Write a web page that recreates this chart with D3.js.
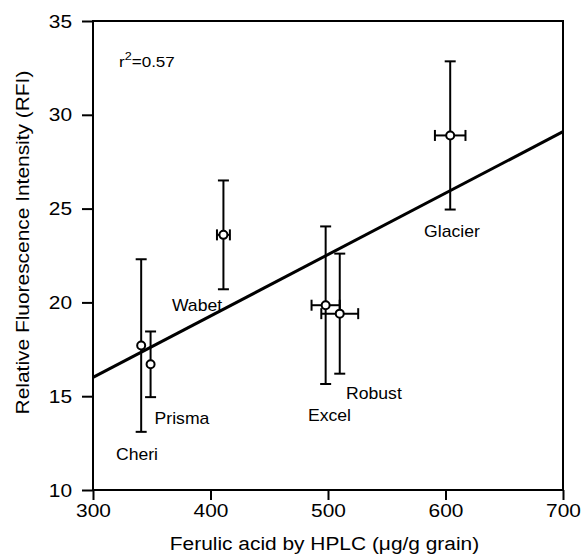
<!DOCTYPE html>
<html>
<head>
<meta charset="utf-8">
<script src="https://cdn.jsdelivr.net/npm/d3@7"></script>
<style>
  body { margin: 0; background: #fff; }
  svg text { font-family: "Liberation Sans", Arial, sans-serif; fill: #000; }
</style>
</head>
<body>
<div id="chart"></div>
<script>
// cultivar data
const cultivars = ["Cheri", "Prisma", "Wabet", "Excel", "Robust", "Glacier"];
const ferulic = [341, 349, 411, 498, 510, 604];
const rfi = [17.7, 16.7, 23.6, 19.85, 19.4, 28.9];
const rfiErr = [4.6, 1.75, 2.9, 4.2, 3.2, 3.95];
const ferulicErr = [0, 0, 5.5, 12, 15.7, 13];
// label centre (x) and baseline (y) in data units
const labelX = [337.4, 375.7, 388.5, 501.3, 539.1, 605.5];
const labelY = [11.6, 13.52, 19.56, 13.69, 14.85, 23.5];
const fitLine = [[300, 16.0], [700, 29.1]];
const xTicks = [300, 400, 500, 600, 700];
const yTicks = [10, 15, 20, 25, 30, 35];

const width = 583, height = 556;
const margin = { top: 21, right: 20, bottom: 66, left: 93 };
const stretch = 1.1; // the original lettering is a bit wide

const svg = d3
  .select("#chart")
  .append("svg")
  .attr("width", width)
  .attr("height", height);

const x = d3.scaleLinear().domain([300, 700]).range([margin.left, width - margin.right]);
const y = d3.scaleLinear().domain([10, 35]).range([height - margin.bottom, margin.top]);

function wideText(parent, px, py, size, anchor, rot) {
  return parent
    .append("text")
    .attr("transform", `translate(${px},${py})${rot ? " rotate(" + rot + ")" : ""} scale(${stretch},1)`)
    .attr("text-anchor", anchor)
    .style("font-size", size + "px");
}

// frame
svg
  .append("rect")
  .attr("x", x(300))
  .attr("y", y(35))
  .attr("width", x(700) - x(300))
  .attr("height", y(10) - y(35))
  .attr("fill", "none")
  .attr("stroke", "#000")
  .attr("stroke-width", 2);

const xAxis = svg
  .append("g")
  .attr("transform", `translate(0,${y(10)})`)
  .call(d3.axisBottom(x).tickValues(xTicks).tickSize(10).tickPadding(4).tickFormat(d3.format("d")));

const yAxis = svg
  .append("g")
  .attr("transform", `translate(${x(300)},0)`)
  .call(d3.axisLeft(y).tickValues(yTicks).tickSize(11).tickPadding(10).tickFormat(d3.format("d")));

[xAxis, yAxis].forEach((a) => {
  a.select(".domain").remove();
  a.selectAll("line").attr("stroke", "#000").attr("stroke-width", 2);
  a.selectAll("text")
    .style("font-size", "19px")
    .style("font-family", "Liberation Sans, Arial, sans-serif")
    .attr("transform", `scale(${stretch},1)`);
});
yAxis.selectAll("text").attr("x", -21 / stretch);

// regression line
svg
  .append("line")
  .attr("x1", x(fitLine[0][0]))
  .attr("y1", y(fitLine[0][1]))
  .attr("x2", x(fitLine[1][0]))
  .attr("y2", y(fitLine[1][1]))
  .attr("stroke", "#000")
  .attr("stroke-width", 3);

const pts = cultivars.map((c, i) => ({
  name: c,
  x: ferulic[i],
  y: rfi[i],
  ey: rfiErr[i],
  ex: ferulicErr[i],
  lx: labelX[i],
  ly: labelY[i],
}));

const g = svg.append("g");
const cap = 5.5;

pts.forEach((d) => {
  g.append("line")
    .attr("x1", x(d.x)).attr("x2", x(d.x))
    .attr("y1", y(d.y - d.ey)).attr("y2", y(d.y + d.ey))
    .attr("stroke", "#000").attr("stroke-width", 2);
  [d.y - d.ey, d.y + d.ey].forEach((v) => {
    g.append("line")
      .attr("x1", x(d.x) - cap).attr("x2", x(d.x) + cap)
      .attr("y1", y(v)).attr("y2", y(v))
      .attr("stroke", "#000").attr("stroke-width", 2);
  });
  if (d.ex > 0) {
    g.append("line")
      .attr("x1", x(d.x - d.ex)).attr("x2", x(d.x + d.ex))
      .attr("y1", y(d.y)).attr("y2", y(d.y))
      .attr("stroke", "#000").attr("stroke-width", 2);
    [d.x - d.ex, d.x + d.ex].forEach((v) => {
      g.append("line")
        .attr("x1", x(v)).attr("x2", x(v))
        .attr("y1", y(d.y) - cap).attr("y2", y(d.y) + cap)
        .attr("stroke", "#000").attr("stroke-width", 2);
    });
  }
});

g.selectAll("circle")
  .data(pts)
  .enter()
  .append("circle")
  .attr("cx", (d) => x(d.x))
  .attr("cy", (d) => y(d.y))
  .attr("r", 4)
  .attr("fill", "#fff")
  .attr("stroke", "#000")
  .attr("stroke-width", 2);

pts.forEach((d) => {
  wideText(g, x(d.lx), y(d.ly), 16, "middle").text(d.name);
});

// r squared
const r2 = wideText(svg, 119, 67, 15.5, "start");
r2.append("tspan").text("r");
r2.append("tspan").attr("dy", -7).style("font-size", "11.5px").text("2");
r2.append("tspan").attr("dy", 7).text("=0.57");

// axis titles
wideText(svg, 324.5, 550, 19, "middle").text("Ferulic acid by HPLC (\u03bcg/g grain)");
wideText(svg, 29, 242.5, 19, "middle", -90).text("Relative Fluorescence Intensity (RFI)");
</script>
</body>
</html>
